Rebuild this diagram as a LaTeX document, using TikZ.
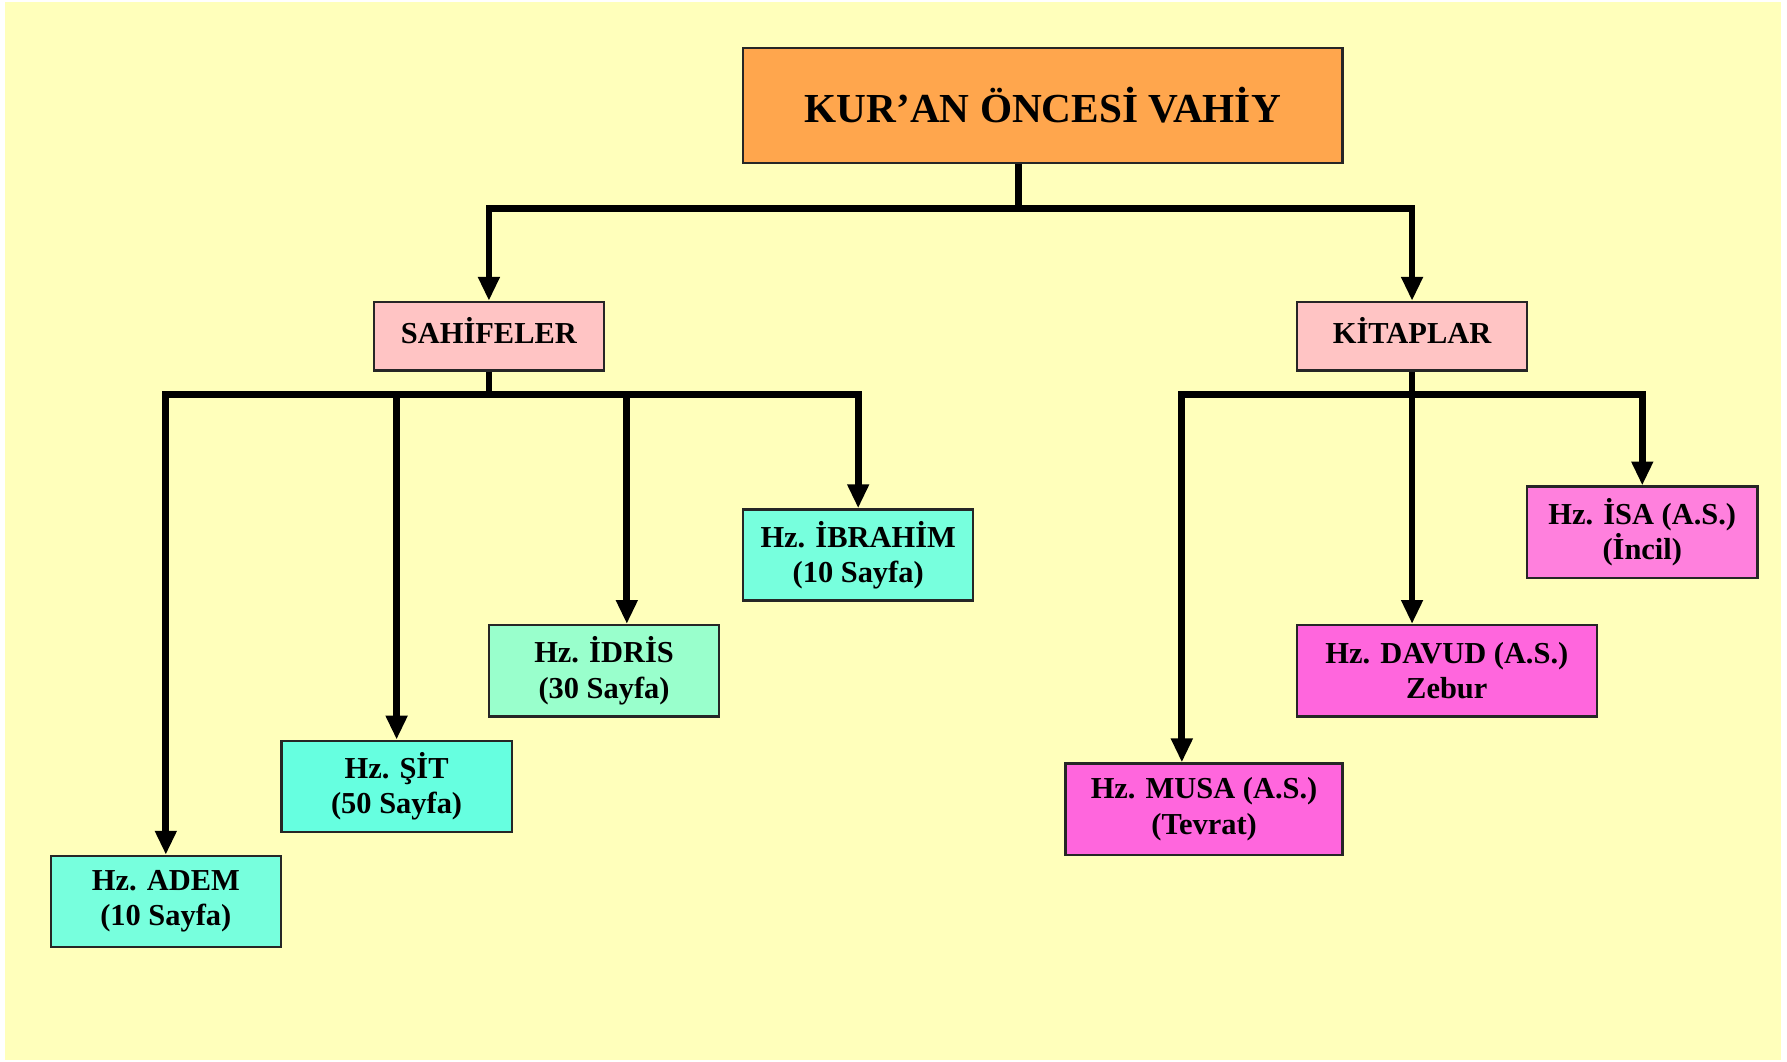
\documentclass[tikz,border=0pt]{standalone}
\usepackage{fontspec}
\setmainfont{Liberation Serif}
\usepackage{tikz}
\usetikzlibrary{arrows.meta, calc, positioning}
\definecolor{zemin}{RGB}{255,255,187}
\definecolor{turuncu}{RGB}{255,166,77}
\definecolor{pembe}{RGB}{255,196,196}
\definecolor{turkuaz}{RGB}{119,255,221}
\definecolor{sitrenk}{RGB}{102,255,224}
\definecolor{idrisrenk}{RGB}{153,255,204}
\definecolor{fusya}{RGB}{255,102,221}
\definecolor{isarenk}{RGB}{255,128,221}
\newcommand{\buyukyazi}{\fontsize{10.3}{12}\selectfont\bfseries}
\newcommand{\kucukyazi}{\fontsize{7.6}{8.8}\selectfont\bfseries}
\tikzset{
  kutu/.style={draw=black!85, line width=0.6pt, fill=#1, rectangle,
               minimum width=2.02cm, minimum height=0.8cm, inner sep=2pt,
               font=\kucukyazi, align=center},
  kutu/.default=turkuaz,
  hat/.style={line width=1.7pt, draw=black},
  ok/.style={hat, -{Triangle[length=0.21cm, width=0.18cm]}},
  ciftok/.style={hat, line join=miter,
                 {Triangle[length=0.21cm, width=0.18cm]}-{Triangle[length=0.21cm, width=0.18cm]}},
}
\begin{document}
\begin{tikzpicture}

  \useasboundingbox (0,0) rectangle (15.68,-9.31);
  \fill[zemin] (0.04,-0.02) rectangle (15.63,-9.30);

  % --- Nodes ---
  \node[kutu=turuncu, minimum width=5.26cm, minimum height=1.01cm, font=\buyukyazi]
    (vahiy) at (9.15,-0.925) {KUR’AN ÖNCESİ VAHİY};

  \node[kutu=pembe, minimum height=0.6cm, text depth=0.1cm] (sahife) at (4.29,-2.95) {SAHİFELER};
  \node[kutu=pembe, minimum height=0.6cm, text depth=0.1cm] (kitap) at (12.39,-2.95) {KİTAPLAR};

  \node[kutu=turkuaz] (adem) at (1.455,-7.91) {Hz. ADEM\\(10 Sayfa)};
  \node[kutu=sitrenk] (sit) at (3.48,-6.90) {Hz. ŞİT\\(50 Sayfa)};
  \node[kutu=idrisrenk] (idris) at (5.30,-5.885) {Hz. İDRİS\\(30 Sayfa)};
  \node[kutu=turkuaz] (ibrahim) at (7.53,-4.87) {Hz. İBRAHİM\\(10 Sayfa)};

  \node[kutu=fusya, minimum width=2.43cm] (musa) at (10.565,-7.10) {Hz. MUSA (A.S.)\\(Tevrat)};
  \node[kutu=fusya, minimum width=2.63cm] (davud) at (12.695,-5.885) {Hz. DAVUD (A.S.)\\Zebur};
  \node[kutu=isarenk] (isa) at (14.41,-4.67) {Hz. İSA (A.S.)\\(İncil)};

  \coordinate (ust) at (8.94,-1.83);
  \coordinate (sbus) at (0,-3.46);
  \coordinate (kbus) at (0,-3.46);

  % --- Connectors ---
  \draw[hat] (vahiy.south -| ust) -- (ust);
  \draw[ciftok] (sahife.north) -- (sahife.north |- ust) -- (kitap.north |- ust) -- (kitap.north);

  \draw[hat] (sahife.south) -- (sahife.south |- sbus);
  \draw[ciftok] (adem.north) -- (adem.north |- sbus) -- (ibrahim.north |- sbus) -- (ibrahim.north);
  \draw[ok] (sit.north |- sbus) -- (sit.north);
  \draw[ok] ($(idris.north |- sbus)+(0.2,0)$) -- ($(idris.north)+(0.2,0)$);

  \draw[ciftok] ($(musa.north)+(-0.195,0)$) -- ($(musa.north |- kbus)+(-0.195,0)$)
    -- (isa.north |- kbus) -- (isa.north);
  \draw[ok] (kitap.south) -- (kitap.south |- davud.north);

\end{tikzpicture}
\end{document}
